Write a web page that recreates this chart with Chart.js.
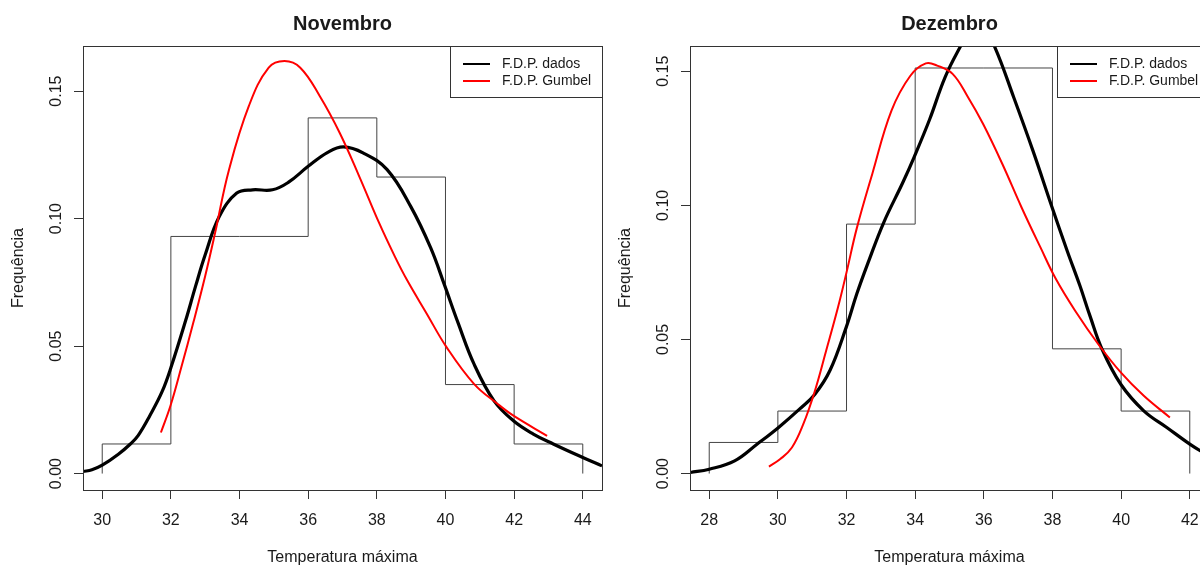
<!DOCTYPE html>
<html>
<head>
<meta charset="utf-8">
<script src="https://cdn.jsdelivr.net/npm/chart.js@4.4.1/dist/chart.umd.min.js"></script>
<style>
  html, body { margin: 0; padding: 0; background: #fff; }
  body { width: 1200px; height: 567px; overflow: hidden; position: relative; }
  .panel { position: absolute; top: 0; }
</style>
</head>
<body>
<div class="panel" style="left:0"><canvas id="nov" width="620" height="567"></canvas></div>
<div class="panel" style="left:600px"><canvas id="dez" width="620" height="567"></canvas></div>
<script>
// histogram breaks and densities
const NOV_BREAKS = [30, 32, 34, 36, 38, 40, 42, 44];
const NOV_DENS = [0.0116, 0.0930, 0.0930, 0.1395, 0.1163, 0.0349, 0.0116];
const DEZ_BREAKS = [28, 30, 32, 34, 36, 38, 40, 42];
const DEZ_DENS = [0.0116, 0.0233, 0.0930, 0.1512, 0.1512, 0.0465, 0.0233];

// kernel density ("F.D.P. dados")
const NOV_KDE_X = [29.44, 29.7, 30.0, 30.47, 30.82, 31.05, 31.39, 31.74, 32.0, 32.43, 32.72, 33.0, 33.41, 33.92, 34.38, 34.96, 35.42, 36.0, 36.57, 37.03, 37.61, 38.3, 38.99, 39.57, 39.97, 40.37, 40.83, 41.41, 41.98, 42.56, 43.14, 44.0, 44.56];
const NOV_KDE_Y = [0.0008, 0.0015, 0.0033, 0.0076, 0.0116, 0.0150, 0.0228, 0.0320, 0.0415, 0.0600, 0.0735, 0.0858, 0.1008, 0.1100, 0.1113, 0.1113, 0.1142, 0.1205, 0.1260, 0.1281, 0.1257, 0.1192, 0.1047, 0.0885, 0.0740, 0.0590, 0.0430, 0.0286, 0.0207, 0.0155, 0.0116, 0.0063, 0.0030];
const DEZ_KDE_X = [27.45, 28.0, 28.74, 29.4, 30.02, 30.63, 31.08, 31.52, 31.99, 32.3, 32.64, 33.08, 33.64, 33.97, 34.42, 34.87, 35.31, 35.55, 35.8, 36.05, 36.32, 36.87, 37.43, 37.99, 38.43, 38.8, 39.1, 39.44, 39.99, 40.66, 41.33, 42.0, 42.56];
const DEZ_KDE_Y = [0.0004, 0.0016, 0.0047, 0.0110, 0.0172, 0.0240, 0.0296, 0.0385, 0.0545, 0.0670, 0.0790, 0.0935, 0.1085, 0.1180, 0.1320, 0.1477, 0.1590, 0.1640, 0.1660, 0.1645, 0.1590, 0.1403, 0.1204, 0.0992, 0.0830, 0.0700, 0.0585, 0.0465, 0.0333, 0.0234, 0.0172, 0.0110, 0.0065];

// fitted Gumbel density ("F.D.P. Gumbel")
const NOV_GUM_X = [31.71, 31.99, 32.31, 32.66, 33.0, 33.29, 33.69, 34.27, 34.85, 35.31, 35.77, 36.34, 36.92, 37.49, 38.07, 38.53, 38.88, 39.45, 40.03, 40.83, 41.52, 41.98, 42.96];
const NOV_GUM_Y = [0.0161, 0.0267, 0.0420, 0.0595, 0.0775, 0.0945, 0.1190, 0.1441, 0.1592, 0.1618, 0.1592, 0.1480, 0.1336, 0.1165, 0.0982, 0.0850, 0.0759, 0.0628, 0.0496, 0.0352, 0.0273, 0.0227, 0.0148];
const DEZ_GUM_X = [29.74, 30.07, 30.41, 30.74, 31.08, 31.41, 31.75, 32.0, 32.3, 32.75, 33.31, 33.86, 34.31, 34.64, 35.09, 35.54, 35.98, 36.54, 37.1, 37.65, 38.1, 38.66, 39.33, 39.99, 40.66, 41.42];
const DEZ_GUM_Y = [0.0026, 0.0054, 0.0097, 0.0184, 0.0309, 0.0460, 0.0619, 0.0750, 0.0915, 0.1117, 0.1353, 0.1483, 0.1529, 0.1521, 0.1490, 0.1403, 0.1303, 0.1154, 0.0992, 0.0843, 0.0725, 0.0607, 0.0483, 0.0377, 0.0290, 0.0209];

const NOV_X_TICKS = [30, 32, 34, 36, 38, 40, 42, 44];
const DEZ_X_TICKS = [28, 30, 32, 34, 36, 38, 40, 42];
const Y_TICKS = [0, 0.05, 0.10, 0.15];
const Y_TICK_LABELS = ['0.00', '0.05', '0.10', '0.15'];
const LEGEND_LABELS = ['F.D.P. dados', 'F.D.P. Gumbel'];
const LEGEND_COLORS = ['#000000', '#ff0000'];

const FONT = '"Liberation Sans", Arial, sans-serif';
Chart.defaults.font.family = FONT;

// outline of the histogram as a stepped line
function stepPoints(breaks, dens) {
  const pts = [{ x: breaks[0], y: 0 }];
  dens.forEach((d, i) => pts.push({ x: breaks[i], y: d }));
  pts.push({ x: breaks[breaks.length - 1], y: 0 });
  return pts;
}

function zip(xs, ys) {
  return xs.map((x, i) => ({ x: x, y: ys[i] }));
}

// title, axis labels, tick labels, box and legend, R style
const panelText = {
  id: 'panelText',
  afterDraw(chart, args, opts) {
    const { ctx, chartArea: a, scales: { x, y } } = chart;
    ctx.save();
    ctx.fillStyle = '#1a1a1a';
    ctx.textAlign = 'center';
    ctx.textBaseline = 'middle';

    ctx.font = 'bold 20px ' + FONT;
    ctx.fillText(opts.title, (a.left + a.right) / 2, 24);

    ctx.font = '16px ' + FONT;
    ctx.fillText('Temperatura máxima', (a.left + a.right) / 2, 558);
    opts.xTicks.forEach(v => ctx.fillText(String(v), x.getPixelForValue(v), a.bottom + 31));

    Y_TICKS.forEach((v, i) => {
      ctx.save();
      ctx.translate(a.left - 26, y.getPixelForValue(v));
      ctx.rotate(-Math.PI / 2);
      ctx.fillText(Y_TICK_LABELS[i], 0, 0);
      ctx.restore();
    });
    ctx.save();
    ctx.translate(a.left - 64, (a.top + a.bottom) / 2);
    ctx.rotate(-Math.PI / 2);
    ctx.fillText('Frequência', 0, 0);
    ctx.restore();

    // legend
    const lw = 152, lh = 51;
    const lx = a.right - lw, ly = a.top;
    ctx.fillStyle = '#fff';
    ctx.fillRect(lx, ly, lw, lh);
    ctx.strokeStyle = '#333';
    ctx.lineWidth = 1;
    ctx.strokeRect(lx + 0.5, ly + 0.5, lw, lh);
    ctx.font = '14px ' + FONT;
    ctx.textAlign = 'left';
    LEGEND_LABELS.forEach((lab, i) => {
      const ry = ly + 18 + i * 17;
      ctx.strokeStyle = LEGEND_COLORS[i];
      ctx.lineWidth = 2;
      ctx.beginPath();
      ctx.moveTo(lx + 13, ry);
      ctx.lineTo(lx + 40, ry);
      ctx.stroke();
      ctx.fillStyle = '#1a1a1a';
      ctx.fillText(lab, lx + 52, ry);
    });

    // plot box
    ctx.strokeStyle = '#333';
    ctx.lineWidth = 1;
    ctx.strokeRect(a.left + 0.5, a.top + 0.5, a.right - a.left, a.bottom - a.top);
    ctx.restore();
  }
};

function makePanel(id, cfg) {
  const tickOpts = { drawOnChartArea: false, drawTicks: true, tickLength: 9, color: '#333', lineWidth: 1 };
  return new Chart(document.getElementById(id), {
    type: 'scatter',
    data: {
      datasets: [
        { data: stepPoints(cfg.breaks, cfg.dens), showLine: true, stepped: 'before', borderColor: '#444', borderWidth: 1, pointRadius: 0, order: 3, clip: 0 },
        { data: zip(cfg.kdeX, cfg.kdeY), showLine: true, borderColor: '#000', borderWidth: 3.2, pointRadius: 0, tension: 0.4, order: 2, clip: 0 },
        { data: zip(cfg.gumX, cfg.gumY), showLine: true, borderColor: '#ff0000', borderWidth: 2, pointRadius: 0, tension: 0.4, order: 1, clip: 0 }
      ]
    },
    options: {
      responsive: false,
      animation: false,
      events: [],
      layout: { padding: { top: 46, right: cfg.padRight, left: 0, bottom: 0 } },
      plugins: {
        legend: { display: false },
        tooltip: { enabled: false },
        panelText: { title: cfg.title, xTicks: cfg.xTicks }
      },
      scales: {
        x: {
          type: 'linear', min: cfg.xMin, max: cfg.xMax,
          afterBuildTicks: s => { s.ticks = cfg.xTicks.map(v => ({ value: v })); },
          afterFit: s => { s.height = 77; },
          ticks: { display: false },
          grid: tickOpts,
          border: { display: false }
        },
        y: {
          type: 'linear', min: cfg.yMin, max: cfg.yMax,
          afterBuildTicks: s => { s.ticks = Y_TICKS.map(v => ({ value: v })); },
          afterFit: s => { s.width = cfg.axisW; },
          ticks: { display: false },
          grid: tickOpts,
          border: { display: false }
        }
      }
    },
    plugins: [panelText]
  });
}

makePanel('nov', {
  title: 'Novembro', breaks: NOV_BREAKS, dens: NOV_DENS,
  kdeX: NOV_KDE_X, kdeY: NOV_KDE_Y, gumX: NOV_GUM_X, gumY: NOV_GUM_Y,
  xTicks: NOV_X_TICKS, xMin: 29.44, xMax: 44.56, yMin: -0.00645, yMax: 0.1677,
  axisW: 83, padRight: 18
});

makePanel('dez', {
  title: 'Dezembro', breaks: DEZ_BREAKS, dens: DEZ_DENS,
  kdeX: DEZ_KDE_X, kdeY: DEZ_KDE_Y, gumX: DEZ_GUM_X, gumY: DEZ_GUM_Y,
  xTicks: DEZ_X_TICKS, xMin: 27.44, xMax: 42.56, yMin: -0.00613, yMax: 0.1594,
  axisW: 90, padRight: 11
});
</script>
</body>
</html>
